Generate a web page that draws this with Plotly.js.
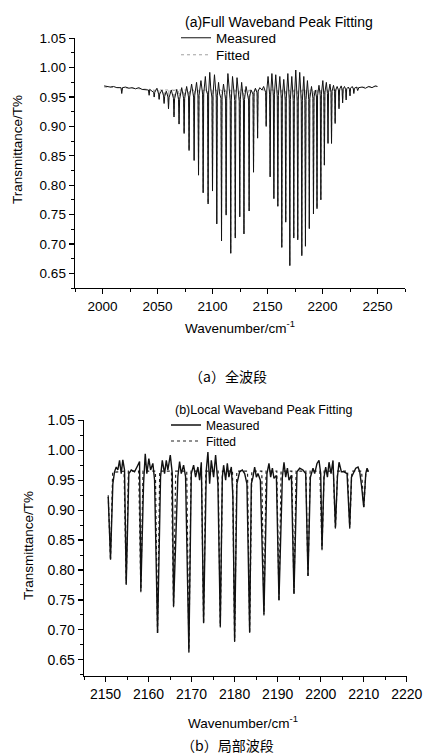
<!DOCTYPE html>
<html>
<head>
<meta charset="utf-8">
<script src="https://cdn.plot.ly/plotly-3.0.1.min.js"></script>
<style>html,body{margin:0;padding:0;background:#fff;}#chart{width:423px;height:756px;}</style>
</head>
<body>
<div id="chart"></div>
<script>
// ---------- (a) Full waveband : measured spectrum (wavenumber, transmittance) ----------
const fullWn = [
 2001.5,2004,2007,2010,2013,2016.8,2017.5,2018.2,2021,2024,2027,2030,2033,2036,2039,2041.8,2042.4,2043,2045,
 2046.5,2047,2047.5,2049.5,2051,2051.5,2052,2054,2055.5,2056,2056.5,2058,2059.5,2060,2060.5,2062.5,
 2064.5,2065,2065.5,2067.5,2069.1,2069.6,2070.1,2072,2073.7,2074.2,2074.7,2076.5,2078.2,2078.7,2079.2,2081,
 2082.8,2083.3,2083.8,2085.5,2086.8,2087.3,2087.8,2089.5,2091,2091.5,2092,2093.5,2094.5,2095.5,2096,2096.5,
 2097.5,2098.5,2099.5,2100,2100.5,2101.8,2102.8,2103.4,2103.9,2104.4,2105.5,2106.5,2107.7,2108.2,2108.7,
 2110,2111,2111.9,2112.4,2112.9,2114,2115,2116.1,2116.6,2117.1,2118.2,2119.2,2120.2,2120.7,2121.2,
 2122.3,2123.3,2124.3,2124.8,2125.3,2126.5,2127.5,2128.1,2128.6,2129.1,2130.5,2131.8,2132.8,2133.3,2133.8,
 2135,2136.8,2137.3,2137.8,2139,2140.5,2141,2141.5,2143,2145,2146.5,2148.3,2148.8,2149.3,
 2150.5,2151.9,2152.4,2152.9,2154,2155.3,2155.8,2156.3,2157.5,2158.9,2159.4,2159.9,2161.2,2162.5,2163,2163.5,
 2164.8,2166.1,2166.6,2167.1,2168.5,2169.8,2170.3,2170.8,2172.1,2173.4,2173.9,2174.4,2175.7,2177,2177.5,2178,
 2179.3,2180.7,2181.2,2181.7,2183,2184,2184.5,2185,2186.3,2187.5,2188,2188.5,2190,2191.3,2191.8,2192.3,
 2193.5,2194.5,2195,2195.5,2196.8,2198,2198.5,2199,2200.3,2201.2,2201.7,2202.2,2203.5,2204.5,2205,2205.5,
 2206.8,2207.7,2208.2,2208.7,2210,2211,2211.5,2212,2213.3,2214.5,2215,2215.5,2217,2217.8,2218.3,2218.8,
 2220,2221,2221.5,2222,2223.5,2224.5,2225,2225.5,2227,2228,2228.5,2229,2231,2232,2233,2236,2239,2242,2245,2248,2250
];
const fullT = [
 0.969,0.968,0.967,0.968,0.966,0.966,0.956,0.966,0.967,0.965,0.966,0.964,0.966,0.963,0.962,0.962,0.953,0.963,0.960,
 0.958,0.950,0.958,0.965,0.955,0.946,0.955,0.962,0.952,0.939,0.951,0.960,0.950,0.930,0.949,0.962,
 0.948,0.916,0.947,0.963,0.946,0.904,0.946,0.966,0.948,0.888,0.948,0.968,0.950,0.859,0.950,0.972,
 0.950,0.842,0.952,0.975,0.952,0.817,0.953,0.978,0.955,0.787,0.955,0.985,0.960,0.955,0.768,0.957,
 0.992,0.962,0.950,0.790,0.955,0.988,0.958,0.950,0.734,0.952,0.975,0.955,0.948,0.705,0.950,
 0.972,0.958,0.945,0.749,0.948,0.990,0.962,0.944,0.684,0.945,0.985,0.960,0.944,0.710,0.946,
 0.983,0.958,0.943,0.746,0.946,0.975,0.955,0.944,0.717,0.946,0.968,0.950,0.945,0.756,0.950,
 0.962,0.955,0.822,0.958,0.965,0.957,0.880,0.960,0.966,0.962,0.968,0.958,0.900,0.960,
 0.985,0.955,0.814,0.955,0.990,0.952,0.777,0.955,0.988,0.950,0.764,0.953,0.985,0.948,0.694,0.950,
 0.980,0.945,0.737,0.948,0.990,0.945,0.663,0.946,0.985,0.944,0.710,0.945,0.996,0.943,0.707,0.945,
 0.992,0.942,0.680,0.944,0.985,0.944,0.696,0.946,0.978,0.946,0.726,0.948,0.968,0.948,0.751,0.950,
 0.962,0.950,0.760,0.952,0.970,0.952,0.775,0.955,0.978,0.955,0.834,0.958,0.975,0.956,0.871,0.958,
 0.972,0.958,0.871,0.960,0.970,0.960,0.905,0.962,0.968,0.962,0.930,0.963,0.969,0.963,0.940,0.964,
 0.968,0.963,0.945,0.964,0.967,0.963,0.952,0.965,0.968,0.964,0.956,0.965,0.967,0.961,0.966,0.967,0.965,0.968,0.966,0.969,0.968
];
// (a) fitted curve
const fitFullWn = [
 2001.5,2017.1,2017.5,2017.9,2042.0,2042.4,2042.8,
 2046.6,2047.0,2047.4,2051.1,2051.5,2051.9,2055.6,2056.0,2056.4,2059.6,2060.0,2060.4,2064.6,2065.0,2065.4,
 2069.2,2069.6,2070.0,2073.8,2074.2,2074.6,2078.3,2078.7,2079.1,2082.9,2083.3,2083.7,2086.9,2087.3,2087.7,
 2091.1,2091.5,2091.9,2095.6,2096.0,2096.4,2099.6,2100.0,2100.4,2103.5,2103.9,2104.3,2107.8,2108.2,2108.6,
 2112.0,2112.4,2112.8,2116.2,2116.6,2117.0,2120.3,2120.7,2121.1,2124.4,2124.8,2125.2,2128.2,2128.6,2129.0,
 2132.9,2133.3,2133.7,2136.9,2137.3,2137.7,2140.6,2141.0,2141.4,
 2148.4,2148.8,2149.2,2152.0,2152.4,2152.8,2155.4,2155.8,2156.2,2159.0,2159.4,2159.8,2162.6,2163.0,2163.4,
 2166.2,2166.6,2167.0,2169.9,2170.3,2170.7,2173.5,2173.9,2174.3,2177.1,2177.5,2177.9,2180.8,2181.2,2181.6,
 2184.1,2184.5,2184.9,2187.6,2188.0,2188.4,2191.4,2191.8,2192.2,2194.6,2195.0,2195.4,2198.1,2198.5,2198.9,
 2201.3,2201.7,2202.1,2204.6,2205.0,2205.4,2207.8,2208.2,2208.6,2211.1,2211.5,2211.9,2214.6,2215.0,2215.4,
 2217.9,2218.3,2218.7,2221.1,2221.5,2221.9,2224.6,2225.0,2225.4,2228.1,2228.5,2228.9,2250
];
const fitFullT = [
 0.967,0.966,0.958,0.966,0.963,0.955,0.963,
 0.962,0.951,0.962,0.962,0.947,0.962,0.962,0.940,0.962,0.962,0.931,0.962,0.962,0.917,0.962,
 0.962,0.905,0.962,0.962,0.889,0.962,0.962,0.860,0.962,0.962,0.843,0.962,0.962,0.818,0.962,
 0.962,0.788,0.962,0.962,0.769,0.962,0.962,0.791,0.962,0.962,0.735,0.962,0.962,0.706,0.962,
 0.962,0.750,0.962,0.962,0.685,0.962,0.962,0.711,0.962,0.962,0.747,0.962,0.962,0.718,0.962,
 0.962,0.757,0.962,0.962,0.823,0.962,0.962,0.881,0.962,
 0.962,0.901,0.962,0.962,0.815,0.962,0.962,0.778,0.962,0.962,0.765,0.962,0.962,0.695,0.962,
 0.962,0.738,0.962,0.962,0.664,0.962,0.962,0.711,0.962,0.962,0.708,0.962,0.962,0.681,0.962,
 0.962,0.697,0.962,0.962,0.727,0.962,0.962,0.752,0.962,0.962,0.761,0.962,0.962,0.776,0.962,
 0.962,0.835,0.962,0.962,0.872,0.962,0.962,0.872,0.962,0.962,0.906,0.962,0.962,0.931,0.962,
 0.963,0.941,0.963,0.964,0.946,0.964,0.965,0.953,0.965,0.966,0.957,0.966,0.968
];

// ---------- (b) Local waveband : measured spectrum ----------
const localWn = [
 2150.63,2151.16,2151.70,2152.09,2152.49,2152.86,2153.26,2153.65,2154.02,2154.42,
 2154.81,2155.42,2155.98,2156.74,2157.51,2157.91,
 2158.21,2158.84,2159.23,2159.60,2160.07,2160.47,2161.00,2161.40,
 2162.09,2162.79,2163.19,2163.72,2164.12,2164.49,2165.05,2165.51,
 2165.81,2166.81,2167.21,2167.60,2168.14,2168.60,
 2169.37,2169.93,2170.47,2170.93,2171.47,2171.86,2172.26,
 2172.79,2173.42,2173.79,2174.19,2174.58,2175.12,2175.58,2176.12,
 2176.67,2177.14,2177.44,2177.91,2178.30,2178.67,2179.23,2179.60,
 2180.00,2180.53,2181.16,2181.79,2182.33,2182.86,
 2183.49,2183.88,2184.26,2184.65,2185.05,2185.42,2185.98,
 2186.81,2187.51,2187.98,2188.37,2188.77,2189.14,2189.70,
 2190.30,2191.09,2191.47,2191.86,2192.26,2192.63,2193.19,
 2193.79,2194.49,2195.12,2195.88,2196.51,
 2197.05,2197.60,2198.21,2198.60,2199.14,2199.60,2200.00,
 2200.30,2200.77,2201.16,2201.56,2201.93,2202.40,2202.86,
 2203.42,2203.88,2204.26,2204.81,2205.42,2206.12,
 2206.74,2207.14,2207.67,2208.14,2208.67,2209.07,2209.47,
 2210.00,2210.47,2210.77,2211.09
];
const localT = [
 0.922,0.818,0.944,0.964,0.972,0.967,0.983,0.961,0.984,0.967,
 0.777,0.961,0.967,0.964,0.975,0.981,
 0.765,0.944,0.994,0.961,0.986,0.967,0.978,0.950,
 0.695,0.956,0.983,0.961,0.983,0.967,0.992,0.961,
 0.740,0.956,0.981,0.961,0.975,0.956,
 0.664,0.961,0.975,0.955,0.972,0.950,0.980,
 0.712,0.967,0.997,0.944,0.983,0.955,0.992,0.944,
 0.706,0.955,0.975,0.950,0.978,0.955,0.972,0.922,
 0.682,0.944,0.964,0.967,0.961,0.944,
 0.696,0.944,0.955,0.972,0.955,0.961,0.950,
 0.726,0.961,0.978,0.955,0.970,0.953,0.958,
 0.750,0.955,0.980,0.955,0.970,0.950,0.958,
 0.761,0.964,0.970,0.967,0.961,
 0.790,0.955,0.970,0.961,0.978,0.983,0.961,
 0.835,0.955,0.972,0.955,0.980,0.961,0.983,
 0.871,0.955,0.980,0.964,0.964,0.961,
 0.871,0.955,0.964,0.970,0.972,0.964,0.942,
 0.905,0.961,0.970,0.964
];
// (b) fitted curve
const fitLocalWn = [
 2150.63,2151.16,2151.66,2154.31,2154.81,2155.31,2157.71,2158.21,2158.71,2161.59,2162.09,2162.59,
 2165.31,2165.81,2166.31,2168.87,2169.37,2169.87,2172.29,2172.79,2173.29,2176.17,2176.67,2177.17,
 2179.50,2180.00,2180.50,2182.99,2183.49,2183.99,2186.31,2186.81,2187.31,2189.80,2190.30,2190.80,
 2193.29,2193.79,2194.29,2196.55,2197.05,2197.55,2199.80,2200.30,2200.80,2202.92,2203.42,2203.92,
 2206.24,2206.74,2207.24,2209.50,2210.00,2210.50,2211.09
];
const fitLocalT = [
 0.925,0.816,0.963,0.965,0.775,0.965,0.965,0.763,0.965,0.965,0.693,0.965,
 0.965,0.738,0.965,0.965,0.662,0.965,0.965,0.710,0.965,0.965,0.704,0.965,
 0.965,0.680,0.965,0.965,0.694,0.965,0.965,0.724,0.965,0.965,0.748,0.965,
 0.965,0.759,0.965,0.965,0.788,0.965,0.965,0.833,0.965,0.965,0.869,0.965,
 0.965,0.869,0.965,0.965,0.903,0.965,0.965
];

// ---------- text ----------
const legendTitleA = '(a)Full Waveband Peak Fitting';
const legendTitleB = '(b)Local Waveband Peak Fitting';
const seriesNames = ['Measured', 'Fitted'];
const yTitle = 'Transmittance/T%';
const xTitle = 'Wavenumber/cm<sup>-1</sup>';
const captionA = '（a）全波段';
const captionB = '（b）局部波段';

const W = 423, H = 756;
const FONT = 'Liberation Sans, Arial, sans-serif';

const traces = [
  {x: fitFullWn, y: fitFullT, type: 'scatter', mode: 'lines', name: seriesNames[1],
   line: {color: '#a0a0a0', width: 1, dash: 'dot'}, xaxis: 'x', yaxis: 'y', legend: 'legend3'},
  {x: fullWn, y: fullT, type: 'scatter', mode: 'lines', name: seriesNames[0],
   line: {color: '#111', width: 1}, xaxis: 'x', yaxis: 'y', legend: 'legend'},
  {x: fitLocalWn, y: fitLocalT, type: 'scatter', mode: 'lines', name: seriesNames[1],
   line: {color: '#222', width: 1.2, dash: 'dot'}, xaxis: 'x2', yaxis: 'y2', legend: 'legend4'},
  {x: localWn, y: localT, type: 'scatter', mode: 'lines', name: seriesNames[0],
   line: {color: '#111', width: 1.4}, xaxis: 'x2', yaxis: 'y2', legend: 'legend2'}
];

function axisBase(extra) {
  return Object.assign({
    showline: true, linecolor: '#000', linewidth: 1.4, mirror: false,
    ticks: 'outside', ticklen: 5, tickwidth: 1.2, tickcolor: '#000',
    showgrid: false, zeroline: false, fixedrange: true,
  }, extra);
}
function legendAt(xPx, yPx, size) {
  return {x: xPx/W, y: 1 - yPx/H, xanchor: 'left', yanchor: 'middle',
    bgcolor: 'rgba(0,0,0,0)', borderwidth: 0, itemwidth: 30, tracegroupgap: 0,
    font: {family: FONT, size: size, color: '#000'}};
}

const layout = {
  width: W, height: H,
  margin: {l: 0, r: 0, t: 0, b: 0},
  paper_bgcolor: '#fff', plot_bgcolor: 'rgba(0,0,0,0)',
  showlegend: true,
  xaxis: axisBase({domain: [75/W, 405/W], range: [1975, 2275], dtick: 50, tick0: 2000,
    anchor: 'y', tickfont: {family: FONT, size: 13.5, color: '#000'},
    minor: {ticks: 'outside', ticklen: 3, dtick: 25, tick0: 2000, tickcolor: '#000', tickwidth: 1}}),
  yaxis: axisBase({domain: [1 - 288/H, 1 - 38/H], range: [0.625, 1.0505], dtick: 0.05, tick0: 0.65,
    tickformat: '.2f', anchor: 'x', tickfont: {family: FONT, size: 13.5, color: '#000'},
    minor: {ticks: 'outside', ticklen: 3, dtick: 0.025, tick0: 0.65, tickcolor: '#000', tickwidth: 1}}),
  xaxis2: axisBase({domain: [84/W, 407/W], range: [2145, 2220.05], dtick: 10, tick0: 2150,
    anchor: 'y2', tickfont: {family: FONT, size: 14, color: '#000'},
    minor: {ticks: 'outside', ticklen: 3, dtick: 5, tick0: 2150, tickcolor: '#000', tickwidth: 1}}),
  yaxis2: axisBase({domain: [1 - 676/H, 1 - 420/H], range: [0.623, 1.0505], dtick: 0.05, tick0: 0.65,
    tickformat: '.2f', anchor: 'x2', tickfont: {family: FONT, size: 14, color: '#000'},
    minor: {ticks: 'outside', ticklen: 3, dtick: 0.025, tick0: 0.65, tickcolor: '#000', tickwidth: 1}}),
  legend: legendAt(176, 38, 13.5),
  legend3: legendAt(176, 55, 13.5),
  legend2: legendAt(166, 425, 12),
  legend4: legendAt(166, 441, 12),
  annotations: [
    {text: legendTitleA, x: 183/W, y: 1 - 22/H, xanchor: 'left', font: {family: FONT, size: 14, color: '#000'}},
    {text: legendTitleB, x: 173/W, y: 1 - 410/H, xanchor: 'left', font: {family: FONT, size: 12.5, color: '#000'}},
    {text: yTitle, x: 18/W, y: 1 - 150/H, textangle: -90},
    {text: xTitle, x: 240/W, y: 1 - 327/H},
    {text: captionA, x: 228/W, y: 1 - 376/H, font: {family: 'Noto Sans CJK SC', size: 14, color: '#000'}},
    {text: yTitle, x: 28/W, y: 1 - 546/H, textangle: -90},
    {text: xTitle, x: 243/W, y: 1 - 722/H},
    {text: captionB, x: 227/W, y: 1 - 745/H, font: {family: 'Noto Sans CJK SC', size: 14, color: '#000'}}
  ].map(a => Object.assign({xref: 'paper', yref: 'paper', xanchor: 'center', yanchor: 'middle',
    showarrow: false, font: {family: FONT, size: 13.5, color: '#000'}}, a))
};

Plotly.newPlot('chart', traces, layout, {staticPlot: true, displayModeBar: false});
</script>
</body>
</html>
